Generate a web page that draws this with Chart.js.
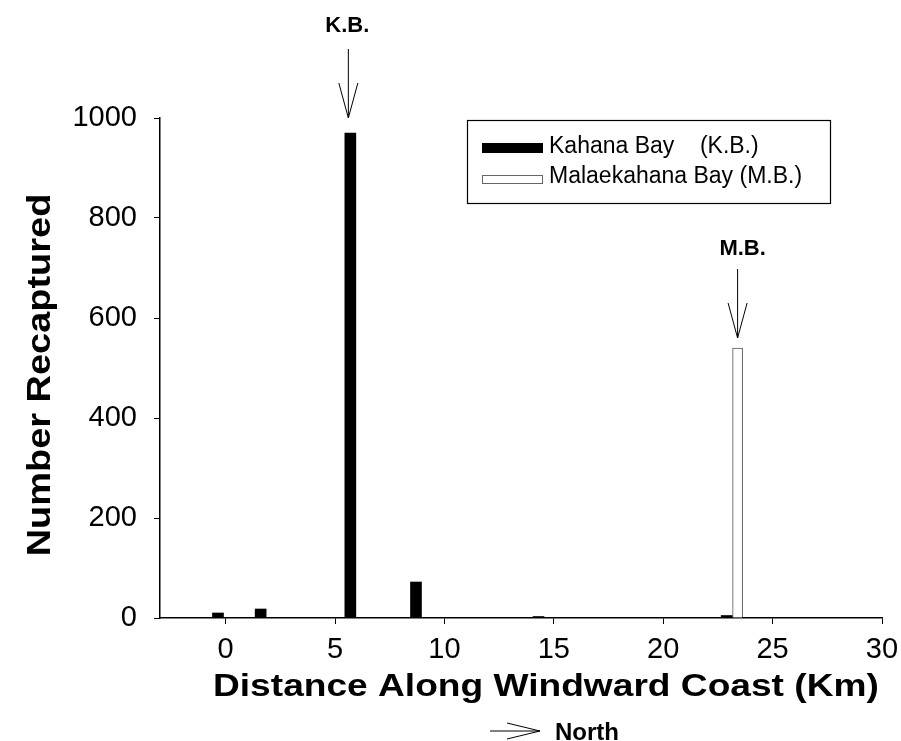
<!DOCTYPE html>
<html lang="en">
<head>
    <meta charset="UTF-8">
    <title>Number Recaptured</title>
    <script src="https://cdn.jsdelivr.net/npm/chart.js"></script>
    <style>
        body { margin: 0; background: #fff; }
        canvas { display: block; }
    </style>
</head>
<body>
    <canvas id="recapChart" width="901" height="741"></canvas>
    <script>
        // distance along coast (km) and counts
        const kbDist = [-0.35, 1.6, 5.7, 8.7, 14.3, 22.9];
        const kbCount = [10, 18, 970, 72, 3, 5];
        const mbDist = [23.4];
        const mbCount = [540];

        const xTicks = [0, 5, 10, 15, 20, 25, 30];
        const yTicks = [0, 200, 400, 600, 800, 1000];

        const kbLabel = "Kahana Bay    (K.B.)";
        const mbLabel = "Malaekahana Bay (M.B.)";

        const FONT = "'Liberation Sans', Arial, Helvetica, sans-serif";

        function downArrow(ctx, px, tip) {
            ctx.beginPath();
            ctx.moveTo(px, tip - 69);
            ctx.lineTo(px, tip);
            ctx.moveTo(px - 9.5, tip - 35);
            ctx.lineTo(px, tip);
            ctx.lineTo(px + 9.5, tip - 35);
            ctx.stroke();
        }

        const annotations = {
            id: "annotations",
            afterDraw(chart) {
                const ctx = chart.ctx;
                ctx.save();
                ctx.fillStyle = "#000";
                ctx.strokeStyle = "#000";
                ctx.lineWidth = 1;

                // arrows above the release sites
                const kbBar = chart.getDatasetMeta(0).data[2];
                const mbBar = chart.getDatasetMeta(1).data[0];
                ctx.font = "bold 22px " + FONT;
                ctx.textAlign = "center";
                ctx.textBaseline = "middle";
                downArrow(ctx, kbBar.x - 2, kbBar.y - 15);
                ctx.fillText("K.B.", kbBar.x - 3, kbBar.y - 107);
                downArrow(ctx, mbBar.x, mbBar.y - 10);
                ctx.fillText("M.B.", mbBar.x + 5, mbBar.y - 99);

                // legend
                ctx.lineWidth = 1.2;
                ctx.strokeRect(467.5, 120.5, 363, 83);
                ctx.fillRect(482, 143, 61, 10);
                ctx.lineWidth = 1;
                ctx.strokeStyle = "#666";
                ctx.strokeRect(482.5, 175.5, 60, 8);
                ctx.font = "23px " + FONT;
                ctx.textAlign = "left";
                ctx.textBaseline = "alphabetic";
                ctx.fillText(kbLabel, 549, 153);
                ctx.fillText(mbLabel, 549, 183);

                // axis titles
                ctx.font = "bold 32px " + FONT;
                ctx.save();
                ctx.translate(213, 696);
                ctx.scale(1.16, 1);
                ctx.fillText("Distance Along Windward Coast (Km)", 0, 0);
                ctx.restore();

                ctx.save();
                ctx.translate(50, 375);
                ctx.rotate(-Math.PI / 2);
                ctx.scale(1.15, 1);
                ctx.font = "bold 33px " + FONT;
                ctx.textAlign = "center";
                ctx.fillText("Number Recaptured", 0, 0);
                ctx.restore();

                // north arrow
                ctx.strokeStyle = "#000";
                ctx.beginPath();
                ctx.moveTo(490, 731);
                ctx.lineTo(540, 731);
                ctx.moveTo(507, 723);
                ctx.lineTo(540, 731);
                ctx.lineTo(507, 739);
                ctx.stroke();
                ctx.font = "bold 24px " + FONT;
                ctx.fillText("North", 555, 740);

                ctx.restore();
            }
        };

        const ctx = document.getElementById("recapChart").getContext("2d");
        const recapChart = new Chart(ctx, {
            type: "bar",
            data: {
                datasets: [{
                    label: kbLabel,
                    data: kbDist.map((d, i) => ({ x: d, y: kbCount[i] })),
                    backgroundColor: "#000",
                    borderWidth: 0,
                    barThickness: 11,
                    grouped: false,
                }, {
                    label: mbLabel,
                    data: mbDist.map((d, i) => ({ x: d, y: mbCount[i] })),
                    backgroundColor: "#fff",
                    borderColor: "#555",
                    borderWidth: 1,
                    barThickness: 10,
                    grouped: false,
                }],
            },
            options: {
                responsive: false,
                animation: false,
                devicePixelRatio: 1,
                layout: { padding: { top: 118, right: 19, left: 0, bottom: 0 } },
                plugins: {
                    legend: { display: false },
                    tooltip: { enabled: false },
                },
                scales: {
                    x: {
                        type: "linear",
                        offset: false,
                        min: -3,
                        max: 30,
                        afterBuildTicks: (s) => { s.ticks = xTicks.map((v) => ({ value: v })); },
                        afterFit: (s) => {
                            s.height = 123;
                            s.paddingLeft = 0;
                            s.paddingRight = 0;
                        },
                        grid: { drawOnChartArea: false, offset: false, color: "#000", tickLength: 6 },
                        border: { color: "#000", width: 1.5 },
                        ticks: {
                            color: "#000",
                            font: { size: 29, family: FONT },
                            padding: 9,
                            maxRotation: 0,
                            autoSkip: false,
                        },
                    },
                    y: {
                        min: 0,
                        max: 1000,
                        afterBuildTicks: (s) => { s.ticks = yTicks.map((v) => ({ value: v })); },
                        afterFit: (s) => { s.width = 160; },
                        grid: { drawOnChartArea: false, color: "#000", tickLength: 6 },
                        border: { color: "#000", width: 1.5 },
                        ticks: {
                            color: "#000",
                            font: { size: 29, family: FONT },
                            padding: 17,
                            callback: (v) => String(v),
                        },
                    },
                },
            },
            plugins: [annotations],
        });
    </script>
</body>
</html>
